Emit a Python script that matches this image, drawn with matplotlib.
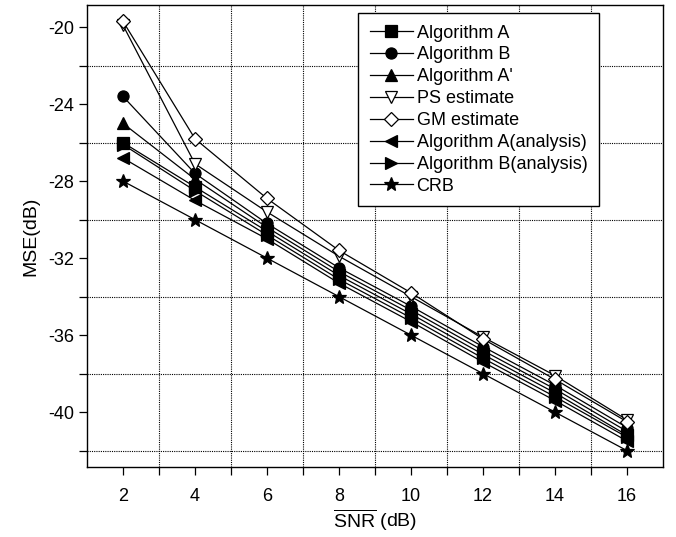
import matplotlib
matplotlib.use("Agg")
import matplotlib.pyplot as plt
from matplotlib.ticker import MultipleLocator

plt.rcParams['font.family'] = ['Liberation Sans', 'DejaVu Sans']
plt.rcParams['mathtext.fontset'] = 'custom'
plt.rcParams['mathtext.rm'] = 'Liberation Sans'
plt.rcParams['axes.unicode_minus'] = False

snr = [2, 4, 6, 8, 10, 12, 14, 16]

alg_a = [-26.0, -28.3, -30.6, -32.9, -34.9, -37.0, -39.0, -41.2]
alg_b = [-23.6, -27.6, -30.2, -32.5, -34.5, -36.6, -38.6, -40.8]
alg_a2 = [-25.0, -27.9, -30.4, -32.7, -34.7, -36.8, -38.8, -41.0]
ps_est = [-19.9, -27.1, -29.6, -31.9, -34.0, -36.1, -38.1, -40.4]
gm_est = [-19.7, -25.8, -28.9, -31.6, -33.8, -36.2, -38.3, -40.5]
alg_a_an = [-26.8, -29.0, -31.0, -33.3, -35.3, -37.4, -39.4, -41.5]
alg_b_an = [-26.1, -28.5, -30.8, -33.1, -35.1, -37.2, -39.2, -41.3]
crb = [-28.0, -30.0, -32.0, -34.0, -36.0, -38.0, -40.0, -42.0]

series = [
    ("Algorithm A", alg_a, 's', 'k'),
    ("Algorithm B", alg_b, 'o', 'k'),
    ("Algorithm A'", alg_a2, '^', 'k'),
    ("PS estimate", ps_est, 'v', 'w'),
    ("GM estimate", gm_est, 'D', 'w'),
    ("Algorithm A(analysis)", alg_a_an, '<', 'k'),
    ("Algorithm B(analysis)", alg_b_an, '>', 'k'),
    ("CRB", crb, '*', 'k'),
]

fig = plt.figure(figsize=(6.76, 5.37), dpi=100)
ax = fig.add_axes([87 / 676, 70 / 537, 576 / 676, 462 / 537])

for label, vals, mk, fc in series:
    ms = 10 if mk == '*' else 8
    if mk == 'D':
        ms = 7.5
    ax.plot(snr, vals, color='k', lw=0.9, marker=mk, markersize=ms,
            markerfacecolor=fc, markeredgecolor='k', markeredgewidth=0.9,
            label=label)

ax.set_xlim(1, 17)
ax.set_ylim(-42.85, -18.85)
ax.xaxis.set_major_locator(MultipleLocator(2))
ax.set_yticks([-20, -24, -28, -32, -36, -40])
ax.set_yticks([-22, -26, -30, -34, -38, -42], minor=True)
ax.set_xticks([3, 5, 7, 9, 11, 13, 15], minor=True)

ax.grid(True, which='minor', color='k', linestyle=(0, (1, 1)), linewidth=0.8)
ax.grid(False, which='major')
ax.tick_params(which='both', direction='out', labelsize=13, width=0.9, length=6)
ax.tick_params(axis='x', which='major', pad=9)
for s in ax.spines.values():
    s.set_linewidth(1.0)

ax.set_xlabel(r'$\overline{\mathrm{SNR}}$ (dB)', fontsize=14, labelpad=2)
ax.set_ylabel('MSE(dB)', fontsize=14, labelpad=6)

leg = ax.legend(loc='upper right', bbox_to_anchor=(0.889, 0.983),
                borderaxespad=0, fontsize=13, handlelength=2.4,
                labelspacing=0.27, handletextpad=0.2, borderpad=0.65,
                fancybox=False, framealpha=1)
leg.get_frame().set_edgecolor('k')
leg.get_frame().set_linewidth(1.0)

fig.savefig("out.png", dpi=100)
